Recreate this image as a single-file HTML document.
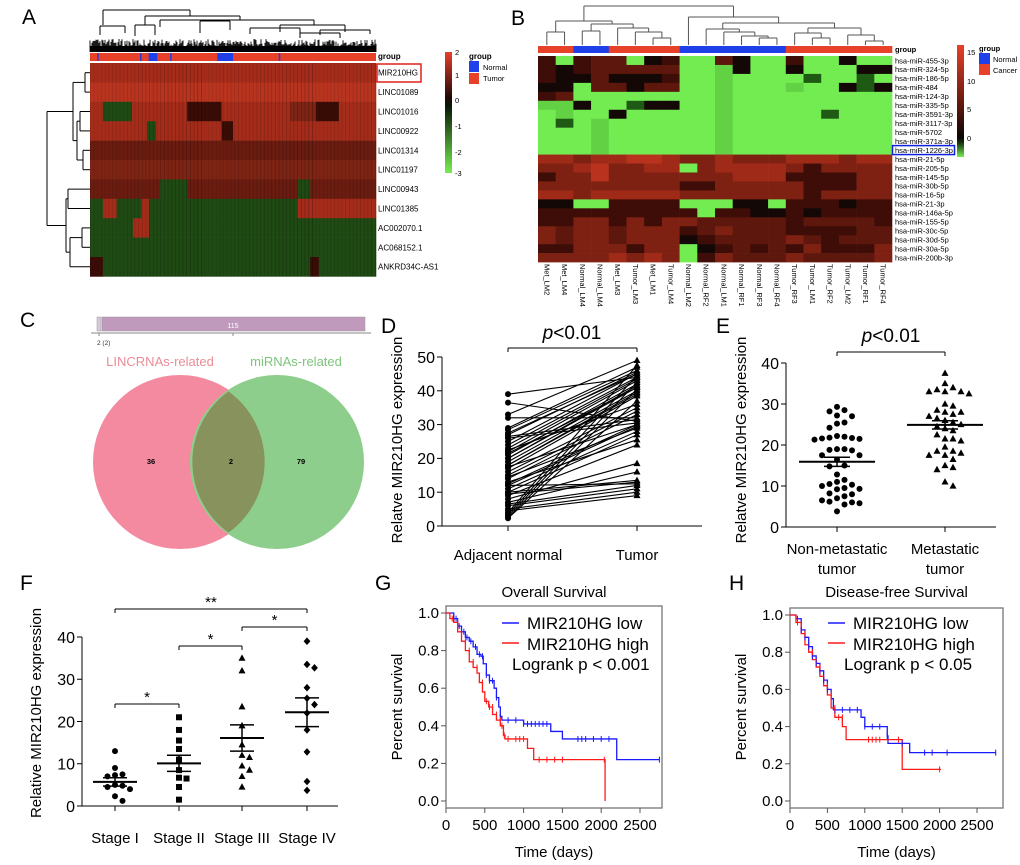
<!DOCTYPE html>
<html><head><meta charset="utf-8">
<style>
html,body{margin:0;padding:0;background:#fff;}
svg{display:block;font-family:"Liberation Sans",Arial,sans-serif;}
</style></head>
<body>
<svg id="fig" width="1020" height="865" viewBox="0 0 1020 865" xmlns="http://www.w3.org/2000/svg">
<rect x="0" y="0" width="1020" height="865" fill="#fff"/>
<g id="pA"></g>
<g id="pB"></g>
<g id="pC"></g>
<g id="pD"></g>
<g id="pE"></g>
<g id="pF"></g>
<g id="pG"></g>
<g id="pH"></g>
</svg>
<script>
// ---------- DATA ----------
const aRows = ["MIR210HG","LINC01089","LINC01016","LINC00922","LINC01314","LINC01197","LINC00943","LINC01385","AC002070.1","AC068152.1","ANKRD34C-AS1"];
const aSegs = [
 [[0,1,"R"]],
 [[0,1,"S"]],
 [[0,0.045,"R"],[0.045,0.147,"G"],[0.147,0.34,"R"],[0.34,0.46,"k"],[0.46,0.7,"R"],[0.7,0.79,"m"],[0.79,0.87,"k"],[0.87,1,"R"]],
 [[0,0.2,"R"],[0.2,0.23,"G"],[0.23,0.46,"R"],[0.46,0.5,"k"],[0.5,1,"R"]],
 [[0,1,"r"]],
 [[0,1,"m"]],
 [[0,0.245,"r"],[0.245,0.34,"G"],[0.34,0.725,"r"],[0.725,0.77,"G"],[0.77,1,"r"]],
 [[0,0.045,"G"],[0.045,0.093,"R"],[0.093,0.18,"G"],[0.18,0.206,"R"],[0.206,0.725,"G"],[0.725,1,"R"]],
 [[0,0.15,"G"],[0.15,0.206,"R"],[0.206,1,"G"]],
 [[0,1,"G"]],
 [[0,0.045,"k"],[0.045,0.77,"G"],[0.77,0.8,"k"],[0.8,1,"G"]]
];
const aNormalCols = [[0.025,0.03],[0.175,0.18],[0.205,0.235],[0.28,0.285],[0.445,0.5],[0.66,0.664]];
const bRows = ["hsa-miR-455-3p","hsa-miR-324-5p","hsa-miR-186-5p","hsa-miR-484","hsa-miR-124-3p","hsa-miR-335-5p","hsa-miR-3591-3p","hsa-miR-3117-3p","hsa-miR-5702","hsa-miR-371a-3p","hsa-miR-1226-3p","hsa-miR-21-5p","hsa-miR-205-5p","hsa-miR-145-5p","hsa-miR-30b-5p","hsa-miR-16-5p","hsa-miR-21-3p","hsa-miR-146a-5p","hsa-miR-155-5p","hsa-miR-30c-5p","hsa-miR-30d-5p","hsa-miR-30a-5p","hsa-miR-200b-3p"];
const bCols = ["Met_LM2","Met_LM4","Normal_LM4","Normal_LM4","Met_LM3","Tumor_LM3","Met_LM1","Tumor_LM4","Normal_LM2","Normal_RF2","Normal_LM1","Normal_RF1","Normal_RF3","Normal_RF4","Tumor_RF3","Tumor_LM1","Tumor_RF2","Tumor_LM2","Tumor_RF1","Tumor_RF4"];
const bGroup = "CCNNCCCCNNNNNNCCCCCC";
const bVals = [
 "kGkrrGDkGGrDGGkGGDGG","kDkrrrrrGGgDGGDGGGDD","kDDrDDDkGGgGGGGdGGdG","DDGrrDrrGGgGGGgGGDdD",
 "krGGGGGGGGgGGGGGGGGG","ggDGGdDDGGgGGGGGGGGG","GgGGDGGGGGgGGGGGdGGG","GdGgGGGGGGgGGGGGGGGG",
 "GGGgGGGGGGgGGGGGGGGG","GGGgGGGGGGgGGGGGGGGG","GGGgGGGGGGgGGGGGGGGG",
 "RRmRRSSRmmRmmmRRRmRR","mmRSmmRRGmRRRRmkmmmm","kmmSmmmmmmmRRRkkkkmm","mmmmmmmmkkmmmmmkkkmm",
 "RRmRRRRRmmmmmmmkmmmm","DDGGkkkkGGGDDGkkkDkk","kkkkkkkkkGkkDDkDkkkk","kkmmkmkmmrrrrrkrrrrk",
 "mrmmrmmmkrmrrrkkkkrr","mrmmrmmmDkrrrrmrkrrr","kkmmmkmmGDkrkrkmkkkm","mmmmRmRmGkmrrrmrrrrm"
];
const dNormal = [39,36.5,33,32,29,28.5,27,26,25,24,23,22,21,20,20,19,18,18,17,16,15,14,13,12.5,12,12,11,10,10,9.5,9,8,7,6.5,6,5,4.5,4,3.5,3,2.5,2.3,22.5,26.5,17.5,14.5,27.5,21.5];
const dTumor  = [44,31,49,32,47,46,45.5,30.5,45,44,43.5,43,42,41.5,41,40,39.5,39,38.5,35,34,33,25.5,30,29.5,12.5,28,27,13.5,13,24,18.5,16,12,11,10,9,47.5,44.5,42.5,40.5,37,36,31.5,30,29,45,41];
const eNon = [29.3,28.5,28.2,27.2,27,25.5,25.2,24.2,22.2,22,21.8,21.7,21.6,21.5,21.3,19,19,18.8,18.7,17.5,17.5,16.5,15,14.8,12.8,11.5,11,10.5,10.3,10,9.5,9.3,9.2,8.2,8,7.5,7,6.5,6.2,6,5.8,5.5,3.8];
const eMet = [37.5,35,34,33.5,33,33,33,32.5,30,29.5,28.5,28,28,27.5,27,26.5,26,25.5,25,24.5,24,23.5,22.5,21.5,21.5,21,19.5,18.5,18.5,18,17.5,17.5,16.5,15,14.5,14,11,10];
const eMean = [15.9,24.9];
const eSem = [1.1,1.0];
const fStages = ["Stage I","Stage II","Stage III","Stage IV"];
const fS1 = [13,9,7.5,7.3,7,5,4.8,4.5,4,2.3,1.2];
const fS2 = [21,18,15.5,13.5,11,8.5,6.7,6.5,4.5,1.5];
const fS3 = [35,32,23.5,19,14.5,12,11.5,9.5,8.5,7,4.5];
const fS4 = [39,33.5,32.7,28,25.5,24,22,18,12.8,5.8,3.7];
const fMean = [5.7,10.1,16.1,22.2];
const fSem = [1.0,1.9,3.1,3.4];
const gLowT = [0,100,150,200,250,300,350,400,450,480,520,560,620,650,680,700,720,1000,1350,1500,2200,2750];
const gLowS = [1,0.97,0.93,0.9,0.87,0.85,0.82,0.78,0.77,0.73,0.67,0.64,0.6,0.55,0.5,0.45,0.43,0.41,0.37,0.33,0.22,0.22];
const gHighT = [0,50,100,150,200,250,300,350,400,430,470,500,550,600,650,700,740,760,1050,1130,2050,2050];
const gHighS = [1,0.97,0.95,0.9,0.85,0.8,0.74,0.71,0.68,0.63,0.58,0.53,0.5,0.46,0.43,0.4,0.35,0.33,0.28,0.22,0.22,0.0];
const gLowC = [100,130,170,230,270,320,380,430,470,520,560,600,650,700,800,900,1000,1050,1100,1150,1200,1250,1300,1700,1750,1800,1900,2000,2100,2750];
const gHighC = [80,150,250,300,350,400,470,520,560,600,650,700,720,750,800,900,950,1000,1200,1300,1400,1500,2040];
const hLowT = [0,80,150,200,250,300,350,400,450,500,550,580,950,1000,1300,1310,1600,2750];
const hLowS = [1,0.98,0.92,0.88,0.83,0.78,0.74,0.7,0.65,0.6,0.55,0.49,0.45,0.4,0.35,0.31,0.26,0.26];
const hHighT = [0,80,150,200,250,300,350,400,450,500,550,600,700,750,1500,1500,2020];
const hHighS = [1,0.96,0.9,0.84,0.8,0.76,0.72,0.67,0.62,0.57,0.5,0.45,0.4,0.33,0.33,0.17,0.17];
const hLowC = [100,150,200,250,300,350,400,450,500,600,700,800,900,1000,1100,1200,1300,1500,1800,1900,2100,2750];
const hHighC = [100,200,300,400,500,550,600,650,700,1050,1100,1150,1200,1450,2000];

// ---------- HELPERS ----------
const NS="http://www.w3.org/2000/svg";
function mk(parent, tag, attrs, name){
  const el=document.createElementNS(NS,tag);
  for(const k in attrs) el.setAttribute(k,attrs[k]);
  
  
  parent.appendChild(el); return el;
}
function ln(p,x1,y1,x2,y2,name,c,w){return mk(p,"line",{x1:x1,y1:y1,x2:x2,y2:y2,stroke:c||"#000","stroke-width":w||1},name);}
function tx(p,x,y,s,size,name,anchor,extra){
  const a=Object.assign({x:x,y:y,"font-size":size,"text-anchor":anchor||"start",fill:"#000"},extra||{});
  const t=mk(p,"text",a,name); t.textContent=s; return t;
}
const COL={G:"#1f4a14",R:"#a52c1a",S:"#b8341f",m:"#7e2414",r:"#6a1c10",k:"#3a0c06"};
const BCOL={G:"#72ec50",g:"#62d244",d:"#1f5a14",D:"#140806",k:"#3e0d07",r:"#5e170c",m:"#7e2012",R:"#a02a18",S:"#b8321e"};

// ---------- PANEL A ----------
(function(){
  const g=document.getElementById("pA");
  tx(g,22,24,"A",21,"panel-label-a");
  const x0=90,x1=376,y0=63,rh=19.4,W=x1-x0;
  const dg=mk(g,"g",{},"column-dendrogram");
  for(let x=x0;x<=x1;x+=1){const r=Math.abs(Math.sin(x*12.9898)*43758.5453)%1;const h=5+r*8;ln(dg,x,52,x,52-h,"dendrogram-leaf","#000",0.9);}
  mk(dg,"rect",{x:x0,y:46,width:W,height:6,fill:"#000"},"dendrogram-base");
  const br=[[103,190,10,25,16],[145,240,16,25,20],[160,314,20,27,25],[280,345,25,32,32],[100,125,26,35,33],[200,230,21,33,30],[250,300,28,34,35],[320,370,30,35,34],[135,155,25,36,35],[300,340,33,38,38]];
  br.forEach(b=>{ln(dg,b[0],b[2],b[1],b[2],"dendrogram-branch");ln(dg,b[0],b[2],b[0],b[3],"dendrogram-branch");ln(dg,b[1],b[2],b[1],b[4],"dendrogram-branch");});
  mk(g,"rect",{x:x0,y:53,width:W,height:8,fill:"#e8412a"},"group-bar");
  aNormalCols.forEach(c=>mk(g,"rect",{x:x0+c[0]*W,y:53,width:Math.max(1.5,(c[1]-c[0])*W),height:8,fill:"#1f3fe8"},"group-normal-cell"));
  tx(g,378,59,"group",8,"group-label",null,{"font-weight":"bold"});
  aSegs.forEach((segs,i)=>{
    segs.forEach(s=>mk(g,"rect",{x:x0+s[0]*W,y:y0+i*rh,width:(s[1]-s[0])*W+0.3,height:rh+0.3,fill:COL[s[2]]},"heatmap-cell"));
    tx(g,378,y0+i*rh+rh/2+3,aRows[i],8,"row-label");
  });
  for(let x=x0;x<x1;x+=3.7){mk(g,"rect",{x:x,y:y0,width:0.8,height:11*rh,fill:"#000",opacity:0.08+0.06*((x*13)%3)},"heatmap-texture");}
  mk(g,"rect",{x:377,y:64,width:44,height:18,fill:"none",stroke:"#e0201a","stroke-width":1.5},"highlight-box-mir210hg");
  const rc=i=>y0+rh*(i+0.5);
  const lg=mk(g,"g",{},"row-dendrogram");
  function j(xa,ya,xb,yb,xj){ln(lg,xa,ya,xj,ya,"dendrogram-branch");ln(lg,xb,yb,xj,yb,"dendrogram-branch");ln(lg,xj,ya,xj,yb,"dendrogram-branch");return (ya+yb)/2;}
  const n01=j(x0,rc(0),x0,rc(1),85), n23=j(x0,rc(2),x0,rc(3),80), n45=j(x0,rc(4),x0,rc(5),83);
  const n2345=j(80,n23,83,n45,77), top=j(85,n01,77,n2345,73);
  const n67=j(x0,rc(6),x0,rc(7),68), n89=j(x0,rc(8),x0,rc(9),82), n8910=j(82,n89,x0,rc(10),70);
  const bot=j(68,n67,70,n8910,66); j(73,top,66,bot,47);
  const gr=mk(g,"defs",{},"defs");
  const lgA=mk(gr,"linearGradient",{id:"gA",x1:0,y1:0,x2:0,y2:1},"gradient");
  [["0","#e8402a"],["0.38","#200806"],["0.45","#0a1a06"],["1","#76ee52"]].forEach(s=>mk(lgA,"stop",{offset:s[0],"stop-color":s[1]},"gradient-stop"));
  mk(g,"rect",{x:445,y:52,width:7,height:121,fill:"url(#gA)"},"color-scale-bar");
  [["2",55],["1",78],["0",103],["-1",129],["-2",155],["-3",176]].forEach(t=>tx(g,455,t[1],t[0],7.5,"color-scale-tick"));
  tx(g,469,59,"group",8,"legend-title",null,{"font-weight":"bold"});
  mk(g,"rect",{x:469,y:61,width:10,height:11,fill:"#1f3fe8"},"legend-swatch-normal");
  tx(g,483,70,"Normal",7.5,"legend-label-normal");
  mk(g,"rect",{x:469,y:73,width:10,height:11,fill:"#e8412a"},"legend-swatch-tumor");
  tx(g,483,81,"Tumor",7.5,"legend-label-tumor");
})();

// ---------- PANEL B ----------
(function(){
  const g=document.getElementById("pB");
  tx(g,511,25,"B",21,"panel-label-b");
  const x0=538,cw=17.7,y0=56,rh=8.96;
  const cx=i=>x0+cw*(i+0.5);
  const tree=[[[0,1,32],[[2,3,31],[4,[5,[6,7,38],32],28],24],21],[8,[[9,[10,[11,[12,13,38],36],32],29],[[14,[15,16,38],33],[17,[18,19,41],35],28],23],17],6];
  function draw(n){
    if(typeof n==="number") return {x:cx(n),y:45};
    const a=draw(n[0]),b=draw(n[1]),y=n[2];
    ln(g,a.x,a.y,a.x,y,"dendrogram-branch","#555");ln(g,b.x,b.y,b.x,y,"dendrogram-branch","#555");ln(g,a.x,y,b.x,y,"dendrogram-branch","#555");
    return {x:(a.x+b.x)/2,y:y};
  }
  draw(tree);
  for(let i=0;i<20;i++){
    mk(g,"rect",{x:x0+i*cw,y:46,width:cw+0.3,height:7,fill:bGroup[i]==="N"?"#1f3fe8":"#e8412a"},"group-cell");
    bVals.forEach((row,r)=>mk(g,"rect",{x:x0+i*cw,y:y0+r*rh,width:cw+0.3,height:rh+0.3,fill:BCOL[row[i]]},"heatmap-cell"));
    tx(g,0,0,bCols[i],7.5,"column-label",null,{transform:"translate("+(cx(i)-2.5)+",264) rotate(90)"});
  }
  tx(g,895,52,"group",7.5,"group-label",null,{"font-weight":"bold"});
  bRows.forEach((r,i)=>tx(g,895,y0+i*rh+rh/2+2.8,r,7.5,"row-label"));
  mk(g,"rect",{x:892.5,y:y0+10*rh,width:62,height:rh,fill:"none",stroke:"#1020e0","stroke-width":1.5},"highlight-box-mir1226");
  const lgB=mk(g,"linearGradient",{id:"gB",x1:0,y1:0,x2:0,y2:1},"gradient");
  [["0","#e8402a"],["0.5","#6a1a0e"],["0.83","#0a0604"],["0.88","#1a3a10"],["1","#76ee52"]].forEach(s=>mk(lgB,"stop",{offset:s[0],"stop-color":s[1]},"gradient-stop"));
  mk(g,"rect",{x:957,y:45,width:7,height:112,fill:"url(#gB)"},"color-scale-bar");
  [["15",55],["10",84],["5",112],["0",141]].forEach(t=>tx(g,967,t[1],t[0],7.5,"color-scale-tick"));
  tx(g,979,51,"group",7.5,"legend-title",null,{"font-weight":"bold"});
  mk(g,"rect",{x:979,y:53,width:11,height:11,fill:"#1f3fe8"},"legend-swatch-normal");
  tx(g,993,62,"Normal",7.5,"legend-label-normal");
  mk(g,"rect",{x:979,y:64,width:11,height:11,fill:"#e8412a"},"legend-swatch-cancer");
  tx(g,993,73,"Cancer",7.5,"legend-label-cancer");
})();

// ---------- PANEL C ----------
(function(){
  const g=document.getElementById("pC");
  tx(g,20,327,"C",21,"panel-label-c");
  mk(g,"rect",{x:97,y:317,width:4,height:14,fill:"#d8c8d8",stroke:"#999","stroke-width":0.5},"bar-intersection");
  mk(g,"rect",{x:102,y:317,width:263,height:14,fill:"#c09abd",stroke:"#999","stroke-width":0.5},"bar-union");
  tx(g,233,328,"115",7,"bar-value",'middle',{fill:"#fff"});
  ln(g,91,333,371,333,"bar-axis","#888");
  ln(g,99,333,99,336,"bar-tick","#888");ln(g,233,333,233,336,"bar-tick","#888");
  tx(g,97,345,"2 (2)",6.5,"bar-tick-label",null,{fill:"#333"});
  tx(g,160,366,"LINCRNAs-related",13,"set-label-lincrna",'middle',{fill:"#ea8c98"});
  tx(g,296,366,"miRNAs-related",13,"set-label-mirna",'middle',{fill:"#7cc47c"});
  mk(g,"circle",{cx:180,cy:462,r:87,fill:"#f48aa0"},"venn-circle-lincrna");
  mk(g,"circle",{cx:277,cy:462,r:87,fill:"#8dce8d"},"venn-circle-mirna");
  mk(g,"path",{d:"M228.5,391.4 A87,87 0 0 1 228.5,532.6 A87,87 0 0 1 228.5,391.4 Z",fill:"#88925c"},"venn-overlap");
  tx(g,151,464,"36",7.5,"venn-count-left",'middle',{"font-weight":"bold"});
  tx(g,231,464,"2",7.5,"venn-count-overlap",'middle',{"font-weight":"bold"});
  tx(g,301,464,"79",7.5,"venn-count-right",'middle',{"font-weight":"bold"});
})();

function yAxis(g,x,yTop,yBot,ticks,yf,fs){
  ln(g,x,yTop,x,yBot,"y-axis-line");
  ticks.forEach(v=>{ln(g,x-5,yf(v),x,yf(v),"y-tick");tx(g,x-7,yf(v)+fs*0.36,String(v),fs,"y-tick-label","end");});
}
function marker(g,type,x,y,name){
  if(type==="c") return mk(g,"circle",{cx:x,cy:y,r:3},name);
  if(type==="s") return mk(g,"rect",{x:x-3,y:y-3,width:6,height:6},name);
  if(type==="t") return mk(g,"path",{d:`M${x},${y-3.8}L${x+3.5},${y+2.6}L${x-3.5},${y+2.6}Z`},name);
  return mk(g,"path",{d:`M${x},${y-3.8}L${x+3.4},${y}L${x},${y+3.8}L${x-3.4},${y}Z`},name);
}
function swarm(vals,yf,cx,d){
  const placed=[];const out=[];
  vals.forEach(v=>{const y=yf(v);let k=0,x;
    while(true){const off=(k%2?1:-1)*Math.ceil(k/2)*d;x=cx+off;
      if(!placed.some(p=>Math.hypot(p[0]-x,p[1]-y)<d-0.5))break;k++;}
    placed.push([x,y]);out.push([x,y]);});
  return out;
}

// ---------- PANEL D ----------
(function(){
  const g=document.getElementById("pD");
  tx(g,381,333,"D",21,"panel-label-d");
  const yf=v=>526-v*3.38, xN=508, xT=637;
  yAxis(g,442,357,526,[0,10,20,30,40,50],yf,16);
  ln(g,442,526,702,526,"x-axis-line");
  ln(g,xN,526,xN,531,"x-tick");ln(g,xT,526,xT,531,"x-tick");
  tx(g,xN,560,"Adjacent normal",15,"x-tick-label",'middle');
  tx(g,xT,560,"Tumor",15,"x-tick-label",'middle');
  tx(g,0,0,"Relatve MIR210HG expression",15,"y-axis-title",'middle',{transform:"translate(402,440) rotate(-90)"});
  ln(g,xN,348,xT,348,"significance-bracket");ln(g,xN,348,xN,352,"bracket-end");ln(g,xT,348,xT,352,"bracket-end");
  const p=tx(g,572,339,"",19,"p-value-label",'middle');
  p.innerHTML='<tspan font-style="italic">p</tspan>&lt;0.01';
  dNormal.forEach((v,i)=>{
    ln(g,xN,yf(v),xT,yf(dTumor[i]),"pair-line","#000",1.1);
    marker(g,"c",xN,yf(v),"normal-point");
    marker(g,"t",xT,yf(dTumor[i]),"tumor-point");
  });
})();

// ---------- PANEL E ----------
(function(){
  const g=document.getElementById("pE");
  tx(g,716,333,"E",21,"panel-label-e");
  const yf=v=>527-v*4.1, xs=[837,945];
  yAxis(g,786,363,527,[0,10,20,30,40],yf,16);
  ln(g,786,527,996,527,"x-axis-line");
  xs.forEach(x=>ln(g,x,527,x,532,"x-tick"));
  tx(g,837,554,"Non-metastatic",15,"x-tick-label",'middle');tx(g,837,574,"tumor",15,"x-tick-label",'middle');
  tx(g,945,554,"Metastatic",15,"x-tick-label",'middle');tx(g,945,574,"tumor",15,"x-tick-label",'middle');
  tx(g,0,0,"Relatve MIR210HG expression",15,"y-axis-title",'middle',{transform:"translate(746,440) rotate(-90)"});
  ln(g,xs[0],352,xs[1],352,"significance-bracket");ln(g,xs[0],352,xs[0],356,"bracket-end");ln(g,xs[1],352,xs[1],356,"bracket-end");
  const p=tx(g,891,342,"",19,"p-value-label",'middle');
  p.innerHTML='<tspan font-style="italic">p</tspan>&lt;0.01';
  swarm(eNon,yf,xs[0],7.5).forEach(pt=>marker(g,"c",pt[0],pt[1],"non-metastatic-point"));
  swarm(eMet,yf,xs[1],8).forEach(pt=>marker(g,"t",pt[0],pt[1],"metastatic-point"));
  [0,1].forEach(i=>{
    ln(g,xs[i]-38,yf(eMean[i]),xs[i]+38,yf(eMean[i]),"mean-line","#000",2);
    ln(g,xs[i]-13,yf(eMean[i]+eSem[i]),xs[i]+13,yf(eMean[i]+eSem[i]),"sem-line","#000",1.5);
    ln(g,xs[i]-13,yf(eMean[i]-eSem[i]),xs[i]+13,yf(eMean[i]-eSem[i]),"sem-line","#000",1.5);
    ln(g,xs[i],yf(eMean[i]+eSem[i]),xs[i],yf(eMean[i]-eSem[i]),"sem-line","#000",1.5);
  });
})();

// ---------- PANEL F ----------
(function(){
  const g=document.getElementById("pF");
  tx(g,20,590,"F",21,"panel-label-f");
  const yf=v=>806-v*4.225, xs=[115,179,242,307];
  yAxis(g,82,637,806,[0,10,20,30,40],yf,16);
  ln(g,82,806,338,806,"x-axis-line");
  xs.forEach((x,i)=>{ln(g,x,806,x,811,"x-tick");tx(g,x,843,fStages[i],15,"x-tick-label",'middle');});
  tx(g,0,0,"Relative MIR210HG expression",15,"y-axis-title",'middle',{transform:"translate(41,713) rotate(-90)"});
  [fS1,fS2,fS3,fS4].forEach((arr,i)=>{
    const t=["c","s","t","d"][i];
    swarm(arr,yf,xs[i],7.5).forEach(pt=>marker(g,t,pt[0],pt[1],"stage-point"));
    const m=fMean[i],s=fSem[i];
    ln(g,xs[i]-22,yf(m),xs[i]+22,yf(m),"mean-line","#000",2);
    ln(g,xs[i]-12,yf(m+s),xs[i]+12,yf(m+s),"sem-line","#000",1.5);
    ln(g,xs[i]-12,yf(m-s),xs[i]+12,yf(m-s),"sem-line","#000",1.5);
    ln(g,xs[i],yf(m+s),xs[i],yf(m-s),"sem-line","#000",1.5);
  });
  const brk=[[0,3,609,"**"],[2,3,627,"*"],[1,2,646,"*"],[0,1,704,"*"]];
  brk.forEach(b=>{
    ln(g,xs[b[0]],b[2],xs[b[1]],b[2],"significance-bracket");
    ln(g,xs[b[0]],b[2],xs[b[0]],b[2]+4,"bracket-end");ln(g,xs[b[1]],b[2],xs[b[1]],b[2]+4,"bracket-end");
    tx(g,(xs[b[0]]+xs[b[1]])/2,b[2]-2,b[3],15,"significance-stars",'middle');
  });
})();

// ---------- KM PANELS ----------
function km(gid,label,lx,box,tmax,title,lowT,lowS,highT,highS,lowC,highC,pText,legX,pX){
  const g=document.getElementById(gid);
  tx(g,lx,590,label,21,"panel-label-"+label.toLowerCase());
  const [bx0,bx1,by0,by1,y1,y0v]=box;
  const xf=t=>bx0+t*(tmax);
  const yf=s=>y0v-s*(y0v-y1);
  mk(g,"rect",{x:bx0,y:by0,width:bx1-bx0,height:by1-by0,fill:"none",stroke:"#777","stroke-width":1.3},"plot-frame");
  tx(g,(bx0+bx1)/2,597,title,15,"chart-title",'middle');
  [0,0.2,0.4,0.6,0.8,1.0].forEach(v=>{ln(g,bx0-5,yf(v),bx0,yf(v),"y-tick","#555");tx(g,bx0-7,yf(v)+5,v.toFixed(1),15,"y-tick-label","end");});
  [0,500,1000,1500,2000,2500].forEach(t=>{ln(g,xf(t),by1,xf(t),by1+5,"x-tick","#555");tx(g,xf(t),830,String(t),15,"x-tick-label",'middle');});
  tx(g,(bx0+bx1)/2,857,"Time (days)",15,"x-axis-title",'middle');
  tx(g,0,0,"Percent survival",15,"y-axis-title",'middle',{transform:"translate("+(bx0-44)+",707) rotate(-90)"});
  function step(T,S){let d=`M${xf(T[0])},${yf(S[0])}`;for(let i=1;i<T.length;i++){d+=`H${xf(T[i])}V${yf(S[i])}`;}return d;}
  function sAt(T,S,t){let s=S[0];for(let i=0;i<T.length;i++){if(T[i]<=t)s=S[i];}return s;}
  mk(g,"path",{d:step(lowT,lowS),fill:"none",stroke:"#1a1aff","stroke-width":1.3},"km-curve-low");
  mk(g,"path",{d:step(highT,highS),fill:"none",stroke:"#ff1a1a","stroke-width":1.3},"km-curve-high");
  lowC.forEach(t=>{const x=xf(t),y=yf(sAt(lowT,lowS,t));ln(g,x,y-3,x,y+3,"censor-mark-low","#1a1aff");});
  highC.forEach(t=>{const x=xf(t),y=yf(sAt(highT,highS,t-1));ln(g,x,y-3,x,y+3,"censor-mark-high","#ff1a1a");});
  ln(g,legX,623,legX+17,623,"legend-line-low","#1a1aff",1.5);
  tx(g,legX+25,629,"MIR210HG low",17,"legend-label-low");
  ln(g,legX,643,legX+17,643,"legend-line-high","#ff1a1a",1.5);
  tx(g,legX+25,650,"MIR210HG high",17,"legend-label-high");
  tx(g,pX,670,pText,17,"logrank-label");
}
km("pG","G",375,[446,662,606,808,613,801],194/2500,"Overall Survival",gLowT,gLowS,gHighT,gHighS,gLowC,gHighC,"Logrank p < 0.001",502,512);
km("pH","H",729,[790,1003,608,808,615,801],187/2500,"Disease-free Survival",hLowT,hLowS,hHighT,hHighS,hLowC,hHighC,"Logrank p < 0.05",828,844);
</script>
</body></html>
